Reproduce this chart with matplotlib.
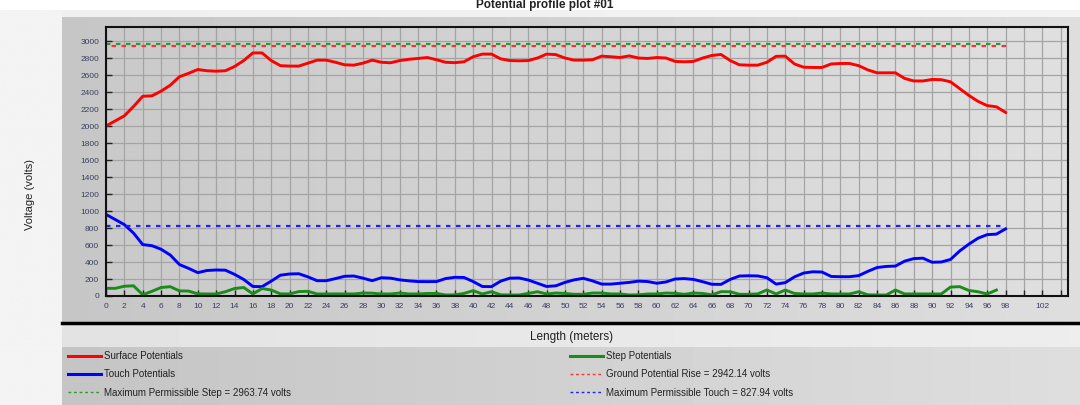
import numpy as np
import matplotlib
matplotlib.use('Agg')
import matplotlib.pyplot as plt
from matplotlib.lines import Line2D

plt.rcParams['font.family'] = ['Liberation Sans', 'DejaVu Sans']

# Potentials along the profile (volts), one reading per metre
surface_potentials = [
    2000, 2060, 2120, 2230, 2350, 2355, 2410, 2480, 2580, 2620,
    2665, 2650, 2645, 2650, 2700, 2770, 2860, 2860, 2770, 2710,
    2705, 2705, 2740, 2775, 2775, 2750, 2720, 2716, 2740, 2775,
    2750, 2744, 2770, 2785, 2795, 2806, 2780, 2750, 2745, 2756,
    2815, 2846, 2846, 2790, 2770, 2767, 2770, 2800, 2846, 2840,
    2800, 2775, 2775, 2780, 2822, 2815, 2806, 2825, 2800, 2795,
    2806, 2800, 2760, 2756, 2760, 2800, 2830, 2842, 2770, 2720,
    2716, 2716, 2750, 2820, 2822, 2730, 2692, 2689, 2689, 2730,
    2736, 2736, 2710, 2660, 2626, 2626, 2626, 2560, 2530, 2530,
    2548, 2545, 2520, 2440, 2360, 2290, 2240, 2226, 2160]
touch_potentials = [
    960, 900, 840, 740, 605, 592, 550, 482, 370, 325,
    275, 300, 306, 304, 255, 195, 112, 110, 175, 245,
    259, 262, 225, 180, 180, 205, 232, 235, 210, 180,
    215, 210, 190, 178, 170, 169, 170, 205, 220, 218,
    170, 112, 110, 175, 210, 212, 188, 150, 112, 120,
    160, 190, 208, 178, 140, 140, 150, 160, 175, 170,
    150, 165, 200, 205, 195, 168, 138, 137, 195, 235,
    238, 236, 215, 140, 157, 225, 270, 285, 282, 230,
    227, 227, 240, 290, 335, 348, 352, 410, 440, 445,
    397, 400, 430, 530, 610, 680, 722, 728, 790]
step_potentials = [
    90, 90, 115, 120, 15, 55, 100, 110, 60, 58,
    25, 24, 24, 50, 88, 100, 25, 88, 70, 25,
    24, 52, 55, 24, 24, 25, 24, 24, 35, 33,
    24, 24, 35, 24, 24, 30, 30, 12, 14, 30,
    63, 24, 50, 14, 12, 12, 30, 50, 24, 35,
    30, 20, 20, 35, 35, 24, 24, 12, 14, 24,
    24, 35, 32, 20, 35, 30, 14, 51, 50, 20,
    20, 25, 71, 24, 70, 30, 24, 24, 35, 24,
    24, 24, 50, 14, 12, 12, 70, 24, 24, 24,
    24, 24, 105, 110, 65, 50, 24, 70]
length_m = np.arange(len(surface_potentials))
length_step = np.arange(len(step_potentials))

ground_potential_rise = 2942.14
max_permissible_step = 2963.74
max_permissible_touch = 827.94

x_ticks = list(range(0, 106, 2))
x_tick_labels = [str(t) if (t <= 98 or t == 102) else '' for t in x_ticks]
y_ticks = list(range(0, 3001, 200))

W, H = 1080, 405
fig = plt.figure(figsize=(W / 100, H / 100), dpi=100)
fig.patch.set_facecolor('white')


def px_axes(x0, y0, x1, y1, **kw):
    return fig.add_axes([x0 / W, 1 - y1 / H, (x1 - x0) / W, (y1 - y0) / H], **kw)


# background panels
bg = px_axes(0, 0, W, H, zorder=0)
bg.axis('off')


def grad(x0, y0, x1, y1, c0, c1):
    g = np.linspace(c0, c1, 256)[None, :]
    bg.imshow(g, cmap='gray', vmin=0, vmax=1, extent=(x0, x1, y1, y0),
              aspect='auto', interpolation='bilinear')


grad(0, 10, 62, H, 0.955, 0.955)
grad(62, 10, W, 17, 0.94, 0.95)
grad(62, 17, W, 322, 0.775, 0.87)
grad(106, 27, 1068, 296, 0.79, 0.875)
grad(62, 324, W, 347, 0.89, 0.93)
grad(62, 347, W, H, 0.77, 0.87)
bg.plot([62, W], [323, 323], color='black', lw=2.5)
bg.set_xlim(0, W)
bg.set_ylim(H, 0)

# plot area
ax = px_axes(106, 27, 1068, 296, zorder=1)
ax.set_facecolor('none')
ax.plot(length_m, surface_potentials, color='#ff0000', lw=2.1)
ax.plot(length_m, touch_potentials, color='#0000ff', lw=2.1)
ax.plot(length_step, step_potentials, color='#1a8c1a', lw=2.1)
ax.hlines(max_permissible_step, 0, length_m[-1], colors='#2e9a2e', linestyles=(0, (2, 2.5)), lw=1.6)
ax.hlines(ground_potential_rise, 0, length_m[-1], colors='#ff3030', linestyles=(2, (2, 2.5)), lw=1.6)
ax.hlines(max_permissible_touch, 0, length_m[-1], colors='#2020ff', linestyles=(0, (2, 2.5)), lw=1.6)

ax.set_xlim(0, 104.8)
ax.set_ylim(0, 3165)
ax.set_xticks(x_ticks)
ax.set_xticklabels(x_tick_labels)
ax.set_yticks(y_ticks)
ax.set_axisbelow(True)
ax.grid(True, color='#a4a4a4', lw=0.9)
ax.tick_params(direction='in', length=4, width=1, color='#222222',
               labelcolor='#3a4060', labelsize=6, pad=5)
for s in ax.spines.values():
    s.set_color('#111111')
    s.set_linewidth(1.5)

# texts
fig.text(545 / W, 1 - 5 / H, 'Potential profile plot #01', fontsize=8.5,
         fontweight='bold', ha='center', va='center', color='#222222')
fig.text(30 / W, 1 - 195 / H, 'Voltage (volts)', rotation=90, fontsize=8,
         ha='center', va='center', color='#222222')
fig.text(572 / W, 1 - 337 / H, 'Length (meters)', fontsize=8.5,
         ha='center', va='center', color='#222222')

# legends
dash = (0, (2, 2))
left_handles = [Line2D([], [], color='#ff0000', lw=2.2),
                Line2D([], [], color='#0000ff', lw=2.2),
                Line2D([], [], color='#2e9a2e', lw=1, linestyle=dash)]
left_labels = ['Surface Potentials', 'Touch Potentials',
               'Maximum Permissible Step = %.2f volts' % max_permissible_step]
right_handles = [Line2D([], [], color='#1a8c1a', lw=2.2),
                 Line2D([], [], color='#ff3030', lw=1, linestyle=dash),
                 Line2D([], [], color='#2020ff', lw=1, linestyle=dash)]
right_labels = ['Step Potentials',
                'Ground Potential Rise = %.2f volts' % ground_potential_rise,
                'Maximum Permissible Touch = %.2f volts' % max_permissible_touch]

for handles, labels, x0 in [(left_handles, left_labels, 68),
                            (right_handles, right_labels, 570)]:
    leg = fig.legend(handles, labels, loc='upper left',
                     bbox_to_anchor=(x0 / W, 1 - 351 / H), frameon=False,
                     fontsize=7, handlelength=3.4, handletextpad=0.3,
                     labelspacing=0.85, borderaxespad=0, borderpad=0)
    for t in leg.get_texts():
        t.set_color('#222222')

fig.savefig('out.png', dpi=100)
